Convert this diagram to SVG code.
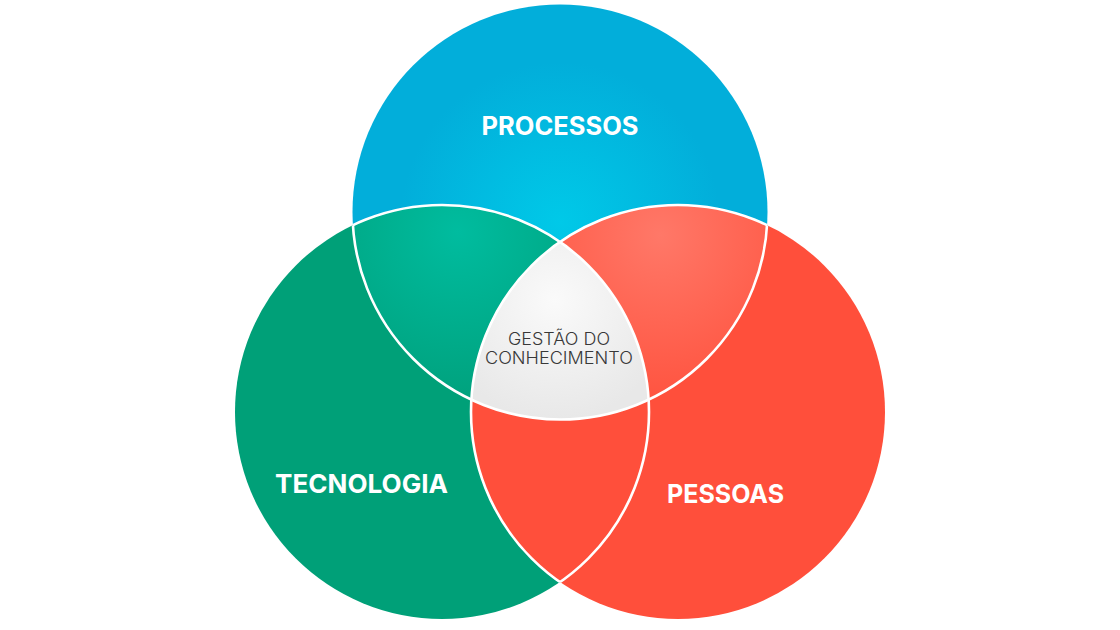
<svg xmlns="http://www.w3.org/2000/svg" width="1120" height="630" viewBox="0 0 1120 630">
<style>
.lbl{font-family:Inter,"Noto Sans","Liberation Sans",sans-serif;font-weight:700;fill:#ffffff;text-anchor:middle}
.ctr{font-family:Inter,"Noto Sans","Liberation Sans",sans-serif;font-weight:300;fill:#383838;text-anchor:middle;font-size:17px}
.edge{fill:none;stroke:#ffffff;stroke-width:2.6}
</style>
<defs>
<clipPath id="cB"><circle cx="560" cy="212" r="207.5"/></clipPath>
<clipPath id="cG"><circle cx="442" cy="412" r="207"/></clipPath>
<clipPath id="cR"><circle cx="678" cy="412" r="207"/></clipPath>
<clipPath id="cGR"><circle cx="442" cy="412" r="207"/><circle cx="678" cy="412" r="207"/></clipPath>
<clipPath id="cBR"><circle cx="560" cy="212" r="207.5"/><circle cx="678" cy="412" r="207"/></clipPath>
<clipPath id="cBG"><circle cx="560" cy="212" r="207.5"/><circle cx="442" cy="412" r="207"/></clipPath>
<radialGradient id="gBlue" gradientUnits="userSpaceOnUse" cx="560" cy="222" r="160">
<stop offset="0" stop-color="#00C9E8"/><stop offset="1" stop-color="#02AEDA"/>
</radialGradient>
<radialGradient id="gTeal" gradientUnits="userSpaceOnUse" cx="458" cy="232" r="160">
<stop offset="0" stop-color="#00BC9F"/><stop offset="1" stop-color="#00A37F"/>
</radialGradient>
<radialGradient id="gCoral" gradientUnits="userSpaceOnUse" cx="660" cy="235" r="170">
<stop offset="0" stop-color="#FF7868"/><stop offset="1" stop-color="#FF533F"/>
</radialGradient>
<radialGradient id="gGrey" gradientUnits="userSpaceOnUse" cx="555" cy="300" r="120">
<stop offset="0" stop-color="#FAFAFA"/><stop offset="1" stop-color="#E8E8E8"/>
</radialGradient>
</defs>

<g id="processos">
<circle cx="560" cy="212" r="207.5" fill="url(#gBlue)"/>
<text class="lbl" x="560" y="135" font-size="25" textLength="157" lengthAdjust="spacingAndGlyphs">PROCESSOS</text>
</g>
<g id="tecnologia">
<circle cx="442" cy="412" r="207" fill="#00A078"/>
</g>
<g id="pessoas">
<circle cx="678" cy="412" r="207" fill="#FF4F3B"/>
</g>
<g id="overlaps">
<circle cx="442" cy="412" r="207" fill="url(#gTeal)" clip-path="url(#cB)"/>
<circle cx="678" cy="412" r="207" fill="url(#gCoral)" clip-path="url(#cB)"/>
</g>
<g id="gestao">
<g clip-path="url(#cG)"><circle cx="678" cy="412" r="207" fill="url(#gGrey)" clip-path="url(#cB)"/></g>
</g>
<g id="connectors">
<circle class="edge" cx="560" cy="212" r="207.5" clip-path="url(#cGR)"/>
<circle class="edge" cx="442" cy="412" r="207" clip-path="url(#cBR)"/>
<circle class="edge" cx="678" cy="412" r="207" clip-path="url(#cBG)"/>
</g>
<g id="labels">
<text class="lbl" x="361.5" y="493" font-size="26" textLength="173" lengthAdjust="spacingAndGlyphs">TECNOLOGIA</text>
<text class="lbl" x="725.5" y="503" font-size="26" textLength="117" lengthAdjust="spacingAndGlyphs">PESSOAS</text>
<text class="ctr" x="559" y="344.5" textLength="102" lengthAdjust="spacingAndGlyphs">GESTÃO DO</text>
<text class="ctr" x="559" y="363.5" textLength="148" lengthAdjust="spacingAndGlyphs">CONHECIMENTO</text>
</g>
</svg>
